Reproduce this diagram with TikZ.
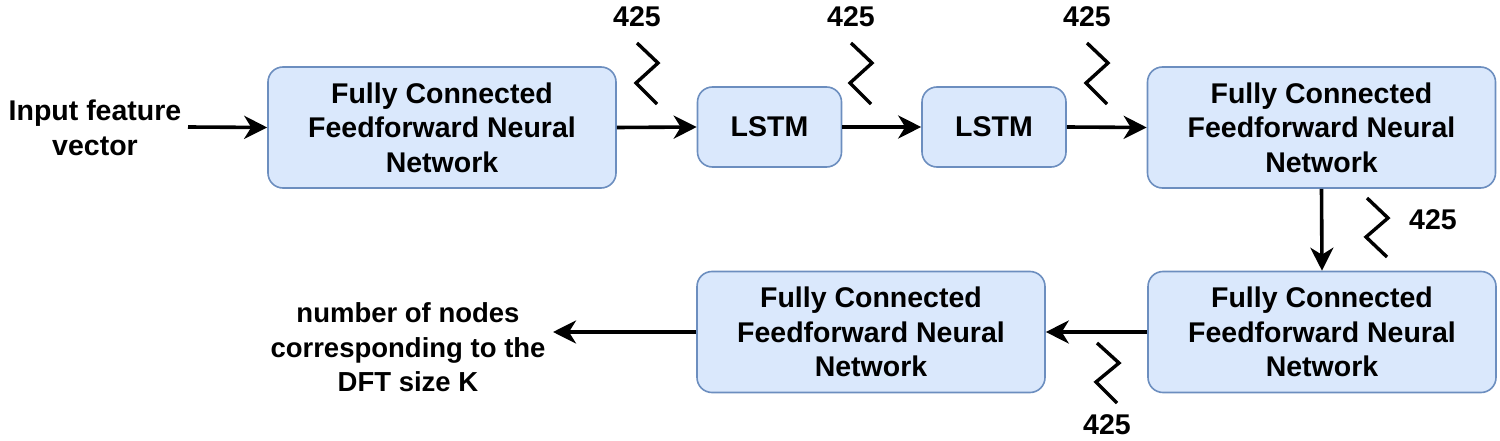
\documentclass[tikz,border=0pt]{standalone}
\usepackage{fontspec}
\setmainfont{Liberation Sans}
\usetikzlibrary{arrows.meta}
\definecolor{boxfill}{HTML}{DAE8FC}
\definecolor{boxline}{HTML}{6C8EBF}
\begin{document}
\begin{tikzpicture}[x=1pt,y=-1pt,
  every node/.style={font=\fontsize{28.5}{34.5}\selectfont\bfseries, text=black},
  box/.style={draw=boxline, line width=1.6pt, fill=boxfill, rounded corners=15pt,
    align=center, inner sep=0pt},
  bigbox/.style={box, minimum width=348pt, minimum height=121pt},
  smallbox/.style={box, minimum width=144pt, minimum height=80pt},
  arr/.style={line width=3.6pt, -{Stealth[length=23pt,width=23pt,inset=7pt]}},
  zz/.style={line width=3.4pt, line join=miter},
  lbl/.style={align=center, inner sep=0pt}]
\useasboundingbox (0,0) rectangle (1500,441);

\node[lbl] (in) at (95,128) {Input feature\\vector};
\node[bigbox] (fc1) at (442,127.5) {Fully Connected\\Feedforward Neural\\Network};
\node[smallbox] (l1) at (769.5,127) {LSTM};
\node[smallbox] (l2) at (994,127) {LSTM};
\node[bigbox] (fc2) at (1321.5,127.5) {Fully Connected\\Feedforward Neural\\Network};
\node[bigbox] (fc3) at (1322,332) {Fully Connected\\Feedforward Neural\\Network};
\node[bigbox] (fc4) at (871,332) {Fully Connected\\Feedforward Neural\\Network};
\node[lbl, font=\fontsize{27.5}{34.5}\selectfont\bfseries] (out) at (408,347.5) {number of nodes\\corresponding to the\\DFT size K};
\coordinate (inend) at (188,127);
\coordinate (outend) at (553,332);

\draw[arr] (inend) -- (fc1.west);
\draw[arr] (fc1.east) -- (l1.west);
\draw[arr] (l1.east) -- (l2.west);
\draw[arr] (l2.east) -- (fc2.west);
\draw[arr] (fc2.south) -- (fc3.north);
\draw[arr] (fc3.west) -- (fc4.east);
\draw[arr] (fc4.west) -- (outend);

% zigzag markers
\draw[zz] (637,43) -- (658,63) -- (636,83) -- (657,104);
\node[lbl] (n1) at (637,17) {425};
\draw[zz] (851,43) -- (872,63) -- (850,83) -- (871,104);
\node[lbl] (n2) at (851,17) {425};
\draw[zz] (1087,43) -- (1108,63) -- (1086,83) -- (1107,104);
\node[lbl] (n3) at (1087,17) {425};
\draw[zz] (1367,198) -- (1388,218) -- (1366,237) -- (1387,257);
\node[lbl] (n4) at (1433,220) {425};
\draw[zz] (1097,343) -- (1119,363) -- (1096,382) -- (1117,403);
\node[lbl] (n5) at (1107,425) {425};
\end{tikzpicture}
\end{document}
